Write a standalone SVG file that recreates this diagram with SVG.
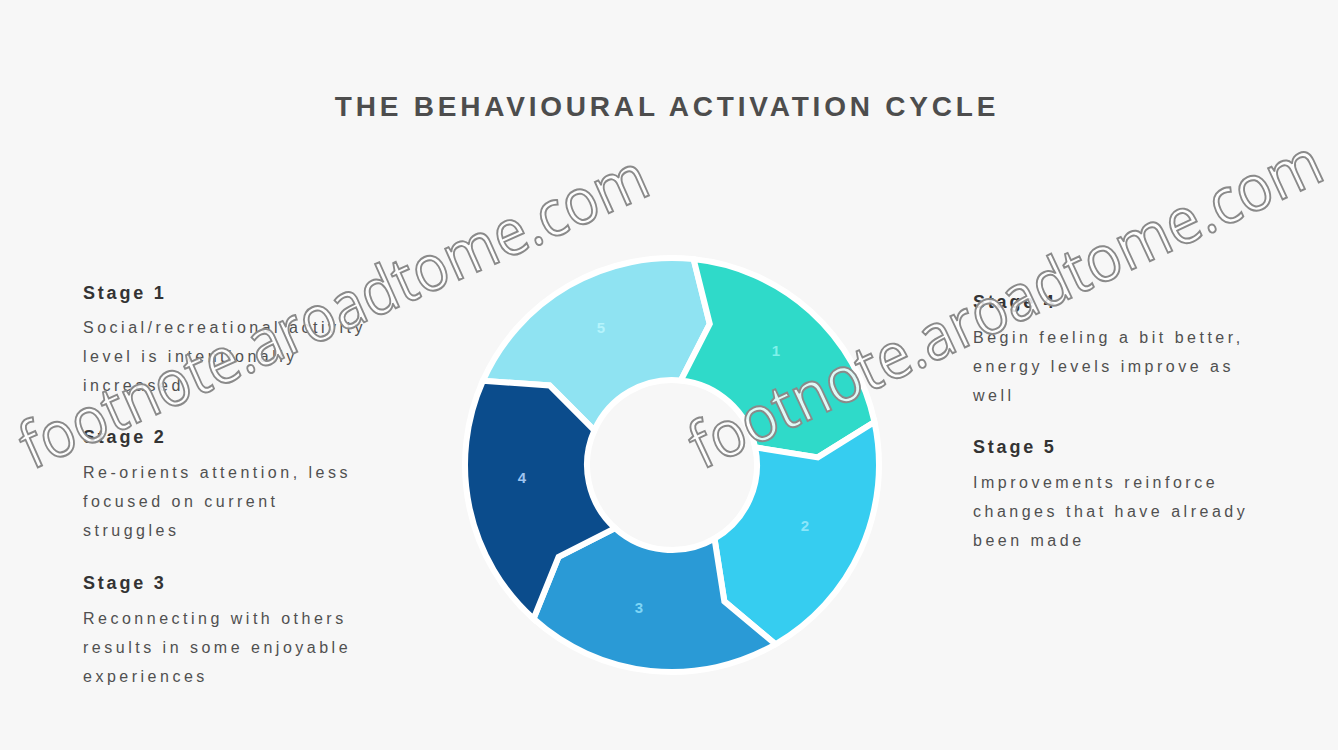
<svg xmlns="http://www.w3.org/2000/svg" width="1338" height="750" viewBox="0 0 1338 750">
<style>
.title{font-family:"Liberation Sans",Arial,sans-serif;font-weight:bold;font-size:28px;fill:#4d4d4d;letter-spacing:3.8px}
.head{font-family:"Liberation Sans",Arial,sans-serif;font-weight:bold;font-size:18px;fill:#333;letter-spacing:2.8px}
.body{font-family:"Liberation Sans",Arial,sans-serif;font-size:16px;fill:#505050;letter-spacing:3.5px}
.seg{stroke:#ffffff;stroke-width:6;stroke-linejoin:miter}
.num{font-family:"Liberation Sans",Arial,sans-serif;font-size:15px;font-weight:bold;text-anchor:middle}
.wm{font-family:"Open Sans","Liberation Sans",sans-serif;font-size:64px;fill:#ffffff;fill-opacity:0.85;stroke:#8a8a8a;stroke-width:2}
</style>
<rect x="0" y="0" width="1338" height="750" fill="#f7f7f7"/>
<text class="title" x="667" y="116" text-anchor="middle">THE BEHAVIOURAL ACTIVATION CYCLE</text>

<g id="cycle">
<g id="seg5">
<path class="seg" fill="#8fe3f2" d="M 482.91,380.81 A 207 207 0 0 1 693.63,259.14 L 709.78,323.98 L 680.88,380.47 A 85 85 0 0 0 594.35,430.43 L 549.55,385.49 Z"/>
<text class="num" x="601" y="333" fill="#b5f4fc">5</text>
</g>
<g id="seg1">
<path class="seg" fill="#2fdac9" d="M 693.63,259.14 A 207 207 0 0 1 874.47,421.96 L 817.80,457.36 L 755.14,447.33 A 85 85 0 0 0 680.88,380.47 L 709.78,323.98 Z"/>
<text class="num" x="776" y="356" fill="#7ff1ea">1</text>
</g>
<g id="seg2">
<path class="seg" fill="#36cdf0" d="M 874.47,421.96 A 207 207 0 0 1 775.5,644.27 L 724.33,601.31 L 714.5,538.61 A 85 85 0 0 0 755.14,447.33 L 817.80,457.36 Z"/>
<text class="num" x="805" y="531" fill="#8ae6fa">2</text>
</g>
<g id="seg3">
<path class="seg" fill="#2a9ad6" d="M 775.5,644.27 A 207 207 0 0 1 533.50,618.82 L 558.54,556.88 L 615.13,528.16 A 85 85 0 0 0 714.5,538.61 L 724.33,601.31 Z"/>
<text class="num" x="639" y="613" fill="#7fd6f6">3</text>
</g>
<g id="seg4">
<path class="seg" fill="#0b4c8c" d="M 533.50,618.82 A 207 207 0 0 1 482.91,380.81 L 549.55,385.49 L 594.35,430.43 A 85 85 0 0 0 615.13,528.16 L 558.54,556.88 Z"/>
<text class="num" x="522" y="483" fill="#9fc4f0">4</text>
</g>
</g>

<g id="connectors"></g>

<g id="stage1">
<text class="head" x="83" y="299">Stage 1</text>
<text class="body" x="83" y="333">Social/recreational activity</text>
<text class="body" x="83" y="362">level is intentionally</text>
<text class="body" x="83" y="391">increased</text>
</g>
<g id="stage2">
<text class="head" x="83" y="443">Stage 2</text>
<text class="body" x="83" y="478">Re-orients attention, less</text>
<text class="body" x="83" y="507">focused on current</text>
<text class="body" x="83" y="536">struggles</text>
</g>
<g id="stage3">
<text class="head" x="83" y="589">Stage 3</text>
<text class="body" x="83" y="624">Reconnecting with others</text>
<text class="body" x="83" y="653">results in some enjoyable</text>
<text class="body" x="83" y="682">experiences</text>
</g>
<g id="stage4">
<text class="head" x="973" y="308">Stage 4</text>
<text class="body" x="973" y="343">Begin feeling a bit better,</text>
<text class="body" x="973" y="372">energy levels improve as</text>
<text class="body" x="973" y="401">well</text>
</g>
<g id="stage5">
<text class="head" x="973" y="453">Stage 5</text>
<text class="body" x="973" y="488">Improvements reinforce</text>
<text class="body" x="973" y="517">changes that have already</text>
<text class="body" x="973" y="546">been made</text>
</g>

<g id="watermark">
<text class="wm" x="32" y="470" transform="rotate(-24 32 470)" textLength="680" lengthAdjust="spacingAndGlyphs">footnote.aroadtome.com</text>
<text class="wm" x="702" y="470" transform="rotate(-25 702 470)" textLength="690" lengthAdjust="spacingAndGlyphs">footnote.aroadtome.com</text>
</g>
</svg>
